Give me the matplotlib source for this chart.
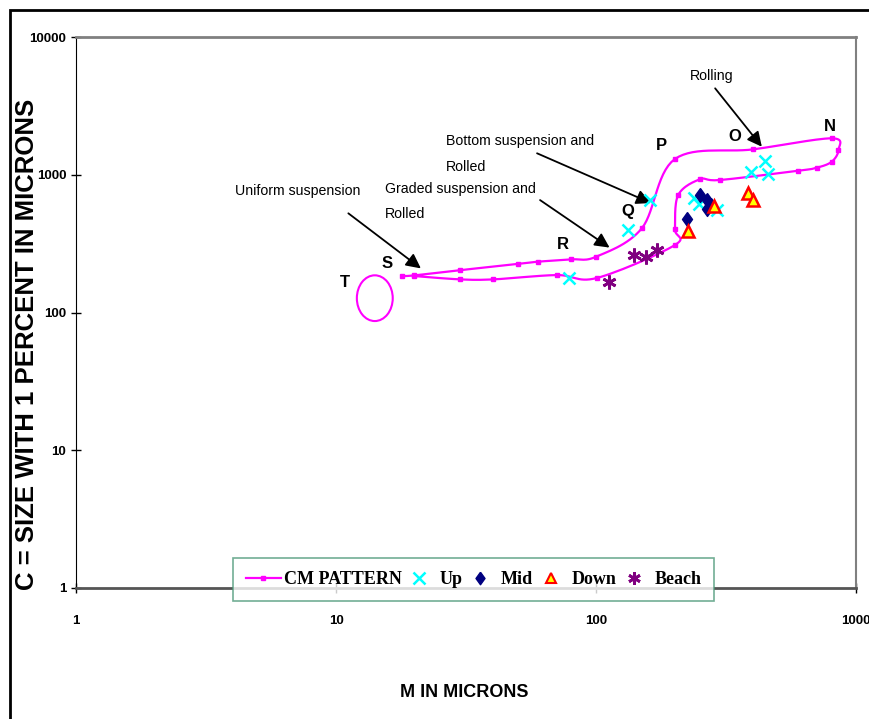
import numpy as np
import matplotlib.pyplot as plt
from matplotlib.lines import Line2D
from matplotlib.patches import Ellipse, Rectangle

# CM pattern envelope (M, C in microns), traced as one closed loop S -> N -> S
cm_m = [18.0, 20.0, 30.0, 50.0, 60.0, 80.0, 100.0, 150.0, 201.0, 403.0, 806.0, 855.0,
        806.0, 706.0, 600.0, 300.0, 251.0, 207.0, 201.0, 201.0, 100.6, 70.6, 40.3, 30.0, 20.0]
cm_c = [184.0, 186.0, 203.0, 225.0, 234.0, 243.0, 254.0, 409.0, 1301.0, 1530.0, 1839.0, 1512.0,
        1244.0, 1125.0, 1070.0, 916.0, 927.0, 713.0, 404.0, 309.0, 178.0, 187.0, 174.0, 174.0, 184.0]

up_m = [78.7, 133.0, 161.0, 237.0, 248.0, 293.0, 396.0, 447.0, 460.0]
up_c = [178.0, 397.0, 661.0, 675.0, 613.0, 555.0, 1056.0, 1265.0, 1012.0]

mid_m = [224.0, 250.0, 268.0, 276.0, 268.0]
mid_c = [477.0, 713.0, 660.0, 600.0, 560.0]

down_m = [226.0, 284.0, 385.0, 403.0]
down_c = [391.0, 593.0, 733.0, 655.0]

beach_m = [112.5, 140.0, 156.0, 171.0]
beach_c = [167.0, 261.0, 253.0, 284.0]

# zone letters
zone_labels = ["T", "S", "R", "Q", "P", "O", "N"]
zone_m = [10.8, 15.75, 74.7, 133.0, 179.0, 342.0, 794.0]
zone_c = [164.0, 228.0, 312.0, 539.0, 1644.0, 1889.0, 2233.0]

# transport mode notes: text, text pos (M, C), arrow tail, arrow head
notes = [
    ("Uniform suspension", (4.09, 762.0), (11.15, 525.0), (21.2, 209.0)),
    ("Graded suspension and\nRolled", (15.4, 640.0), (60.9, 655.0), (112.7, 296.0)),
    ("Bottom suspension and\nRolled", (26.5, 1420.0), (59.3, 1432.0), (162.7, 623.0)),
    ("Rolling", (230.0, 5212.0), (287.0, 4243.0), (434.0, 1598.0)),
]


def smooth_line(x, y, steps=16):
    # Bezier smoothing (like a spreadsheet "smoothed line"), done in log space
    px = np.log10(x)
    py = np.log10(y)
    n = len(px)
    out_x, out_y = [px[0]], [py[0]]
    t = np.linspace(0, 1, steps)[1:]
    for i in range(n - 1):
        a, b = max(i - 1, 0), min(i + 2, n - 1)
        c1x = px[i] + (px[i + 1] - px[a]) / 6
        c1y = py[i] + (py[i + 1] - py[a]) / 6
        c2x = px[i + 1] - (px[b] - px[i]) / 6
        c2y = py[i + 1] - (py[b] - py[i]) / 6
        bx = (1 - t) ** 3 * px[i] + 3 * (1 - t) ** 2 * t * c1x + 3 * (1 - t) * t ** 2 * c2x + t ** 3 * px[i + 1]
        by = (1 - t) ** 3 * py[i] + 3 * (1 - t) ** 2 * t * c1y + 3 * (1 - t) * t ** 2 * c2y + t ** 3 * py[i + 1]
        out_x.extend(bx)
        out_y.extend(by)
    return 10 ** np.array(out_x), 10 ** np.array(out_y)


sans = ["Liberation Sans", "DejaVu Sans"]
serif = ["Liberation Serif", "DejaVu Serif"]

# tall diamond like the spreadsheet marker
diamond = [(0, 1), (0.72, 0), (0, -1), (-0.72, 0), (0, 1)]

fig = plt.figure(figsize=(8.7, 7.19), dpi=100)
ax = fig.add_axes([0.0874, 0.1822, 0.8966, 0.7663])

magenta = "#FF00FF"
sx, sy = smooth_line(cm_m, cm_c)
ax.plot(sx, sy, color=magenta, lw=1.6, zorder=3)
ax.plot(cm_m, cm_c, ls="none", marker="s", ms=3.5, color=magenta, zorder=4)

ax.plot(up_m, up_c, ls="none", marker="x", ms=9, mew=1.8, color="#00FFFF", zorder=5)
ax.plot(mid_m, mid_c, ls="none", marker=diamond, ms=10, color="#000080", zorder=5)
ax.plot(down_m, down_c, ls="none", marker="^", ms=8, mfc="#FFFF00", mec="#FF0000", mew=1.8, zorder=6)
ax.plot(beach_m, beach_c, ls="none", marker=(6, 2, 0), ms=10, mew=2, color="#800080", zorder=5)

# circle drawn round the T zone
ax.add_patch(Ellipse((0.383, 0.526), 0.046, 0.083, transform=ax.transAxes,
                     fill=False, ec=magenta, lw=1.5, zorder=3))

for lab, m, c in zip(zone_labels, zone_m, zone_c):
    ax.text(m, c, lab, ha="center", va="center", fontsize=12, fontweight="bold", family=sans)

for txt, tpos, tail, head in notes:
    ax.text(tpos[0], tpos[1], txt, ha="left", va="center", fontsize=10.2,
            family=sans, linespacing=2.05)
    ax.annotate("", xy=head, xytext=tail,
                arrowprops=dict(arrowstyle="-|>", color="black", lw=1.3,
                                mutation_scale=22, shrinkA=0, shrinkB=0))

ax.set_xscale("log")
ax.set_yscale("log")
ax.set_xlim(1, 1000)
ax.set_ylim(1, 10000)
ax.set_xticks([1, 10, 100, 1000])
ax.set_xticklabels(["1", "10", "100", "1000"])
ax.set_yticks([1, 10, 100, 1000, 10000])
ax.set_yticklabels(["1", "10", "100", "1000", "10000"])
ax.minorticks_off()
ax.tick_params(axis="both", direction="inout", length=7, width=1, labelsize=9.5)
ax.tick_params(axis="x", pad=16)
for lbl in ax.get_xticklabels() + ax.get_yticklabels():
    lbl.set_fontweight("bold")
    lbl.set_family(sans)

ax.spines["left"].set_color("black")
ax.spines["bottom"].set_color("#555555")
ax.spines["bottom"].set_linewidth(2)
ax.spines["top"].set_color("#808080")
ax.spines["top"].set_linewidth(2)
ax.spines["right"].set_color("#808080")
ax.spines["right"].set_linewidth(1.5)

fig.text(0.534, 0.037, "M IN MICRONS", ha="center", va="center", fontsize=13,
         fontweight="bold", family=sans)
fig.text(0.0315, 0.521, "C = SIZE WITH 1 PERCENT IN MICRONS", ha="center", va="center",
         rotation=90, fontsize=18.5, fontweight="bold", family=sans)

handles = [
    Line2D([], [], color=magenta, lw=1.6, marker="s", ms=3.5),
    Line2D([], [], ls="none", marker="x", ms=8, mew=1.8, color="#00FFFF"),
    Line2D([], [], ls="none", marker=diamond, ms=9, color="#000080"),
    Line2D([], [], ls="none", marker="^", ms=7, mfc="#FFFF00", mec="#FF0000", mew=1.5),
    Line2D([], [], ls="none", marker=(6, 2, 0), ms=9, mew=2, color="#800080"),
]
leg = fig.legend(handles, ["CM PATTERN", "Up", "Mid", "Down", "Beach"], loc="center",
                 bbox_to_anchor=(0.5443, 0.194), ncol=5, frameon=True, fancybox=False,
                 handlelength=1.94, handletextpad=0.17, columnspacing=0.0, borderpad=0.72,
                 borderaxespad=0, prop={"family": serif, "weight": "bold", "size": 13})
leg.get_frame().set_edgecolor("#4E9A7A")
leg.get_frame().set_linewidth(1.2)
leg.set_zorder(10)

# outer frame round the whole chart
fig.patches.append(Rectangle((10 / 870, -0.1), 1.2, (719 - 10) / 719 + 0.1,
                             transform=fig.transFigure, fill=False, ec="black", lw=2))

fig.savefig("out.png", dpi=100)
